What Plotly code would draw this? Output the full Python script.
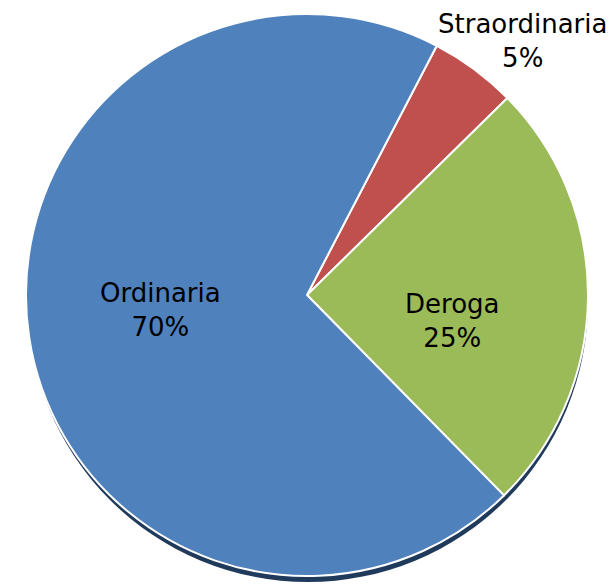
import plotly.graph_objects as go

# Ripartizione per tipologia
labels = ["Straordinaria", "Deroga", "Ordinaria"]
values = [5, 25, 70]
colors = ["#C0504D", "#9BBB59", "#4F81BD"]

W, H = 613, 585
cx, cy, r = 307, 295, 281  # pie centre (px from top-left) and radius

# label anchor points (px from top-left), one per slice
label_xy = [(522, 41), (452, 321), (160, 310)]


def dom(cx, cy, r):
    return dict(
        x=[(cx - r) / W, (cx + r) / W],
        y=[(H - cy - r) / H, (H - cy + r) / H],
    )


fig = go.Figure()

# dark drop shadow under the pie
fig.add_trace(go.Pie(
    values=[1],
    marker=dict(colors=["#203A5C"], line=dict(width=0)),
    textinfo="none",
    hoverinfo="skip",
    sort=False,
    showlegend=False,
    automargin=False,
    domain=dom(cx + 1, cy + 7, r - 1),
))

fig.add_trace(go.Pie(
    labels=labels,
    values=values,
    sort=False,
    direction="clockwise",
    rotation=27.5,
    marker=dict(colors=colors, line=dict(color="white", width=2)),
    textinfo="none",
    showlegend=False,
    automargin=False,
    domain=dom(cx, cy, r),
))

total = sum(values)
for lab, val, (px, py) in zip(labels, values, label_xy):
    fig.add_annotation(
        x=px / W, y=1 - py / H, xref="paper", yref="paper",
        xanchor="center", yanchor="middle",
        text=f"{lab}<br>{round(100 * val / total)}%",
        showarrow=False,
        font=dict(family="DejaVu Sans, Verdana, sans-serif", size=26, color="black"),
    )

fig.update_layout(
    width=W,
    height=H,
    margin=dict(l=0, r=0, t=0, b=0, autoexpand=False),
    paper_bgcolor="white",
    plot_bgcolor="white",
)

fig.write_html("out.html")
